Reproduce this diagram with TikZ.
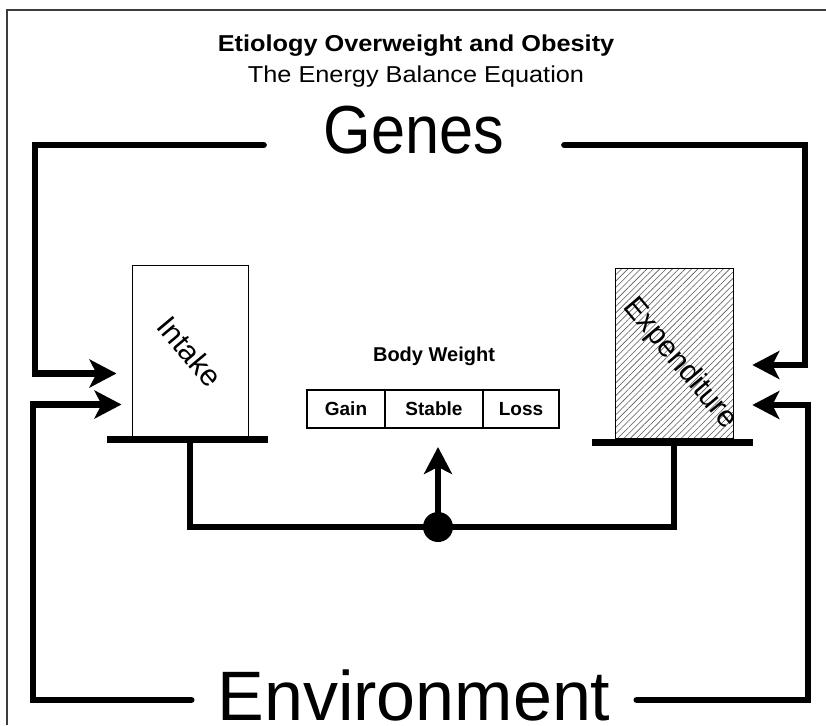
\documentclass[tikz,border=0pt]{standalone}
\usepackage{fontspec}
\setmainfont{Liberation Sans}
\newfontfamily\widesans{Liberation Sans}[FakeStretch=1.1]
\newfontfamily\narrowsans{Liberation Sans}[FakeStretch=0.9]
\usepackage{tikz}
\usetikzlibrary{arrows.meta, positioning, patterns.meta, calc}
\definecolor{frameGray}{RGB}{60,60,60}
\tikzset{
  bigword/.style={font=\fontsize{70}{70}\selectfont,inner ysep=0pt,inner xsep=52pt},
  headline/.style={font=\widesans\fontsize{23}{23}\selectfont,inner sep=0pt},
  flowline/.style={line width=6.5pt,line cap=round,color=black},
  flowarr/.style={flowline,-{Stealth[length=27pt,width=28pt,inset=7pt]}},
  sidebox/.style={rectangle,draw=black,line width=1pt,minimum width=116pt,minimum height=171pt,inner sep=0pt},
  sidelabel/.style={rotate=-50,font=\fontsize{30}{30}\selectfont,inner sep=0pt},
  barline/.style={line width=7pt},
  cell/.style={rectangle,draw=black,line width=2pt,outer sep=0pt,minimum height=38pt,inner sep=0pt,font=\fontsize{19}{19}\selectfont\bfseries},
  pivotdot/.style={circle,fill=black,minimum size=30pt,inner sep=0pt}
}
\begin{document}
\begin{tikzpicture}[x=1pt,y=-1pt]
  \useasboundingbox (0,0) rectangle (826,725);
  \draw[line width=2pt,frameGray] (7,725) -- (7,10) -- (826,10);

  % headings
  \node[headline,font=\widesans\fontsize{23}{23}\selectfont\bfseries,anchor=base] (title) at (416,52) {Etiology Overweight and Obesity};
  \node[headline,anchor=base] (subtitle) at (416,82) {The Energy Balance Equation};
  \node[bigword,font=\narrowsans\fontsize{68}{68}\selectfont,inner xsep=60pt,anchor=base] (genes) at (414,153) {Genes};
  \node[bigword,inner xsep=26pt,anchor=base] (env) at (414,720) {Environment};

  % intake / expenditure
  \node[sidebox] (intake) at (190,350.5) {};
  \node[sidelabel] (intakeLbl) at ([yshift=-1pt]intake.center) {Intake};
  \node[sidebox,minimum width=118pt,minimum height=170pt,pattern={Lines[angle=45,distance=4.5pt,line width=0.6pt]},pattern color=black!65] (expend) at (674,353) {};
  \node[sidelabel] (expendLbl) at ([xshift=6pt,yshift=-11pt]expend.center) {Expenditure};
  \draw[barline] ([xshift=-25pt,yshift=-3pt]intake.south west) -- ([xshift=19pt,yshift=-3pt]intake.south east);
  \draw[barline] ([xshift=-23pt,yshift=-4pt]expend.south west) -- ([xshift=20pt,yshift=-4pt]expend.south east);

  % scale
  \node[cell,minimum width=78pt] (gain) at (346,409) {Gain};
  \node[cell,minimum width=98pt,right=0pt of gain] (stable) {Stable};
  \node[cell,minimum width=76pt,right=0pt of stable] (loss) {Loss};
  \node[font=\fontsize{20}{20}\selectfont\bfseries,inner sep=0pt,above=24pt of stable] (bodyWt) {Body Weight};

  \node[pivotdot] (pivot) at (438,527) {};
  \draw[flowline,line cap=butt] (intake.south) |- (pivot.center) -| (expend.south);
  \draw[flowarr,line cap=butt,shorten >=19pt] (pivot.center) -- (pivot.center |- stable.south);

  % genes and environment feeds
  \coordinate (gTL) at (35,145);
  \coordinate (gTR) at (805,145);
  \coordinate (eBL) at (33,700);
  \coordinate (eBR) at (808,700);
  \draw[flowarr] (genes.west |- gTL) -- (gTL) |- ([xshift=-15pt,yshift=-23pt]intake.west);
  \draw[flowarr] (genes.east |- gTR) -- (gTR) |- ([xshift=19pt,yshift=-12pt]expend.east);
  \draw[flowarr] (env.west |- eBL) -- (eBL) |- ([xshift=-10pt,yshift=-54pt]intake.west);
  \draw[flowarr] (env.east |- eBR) -- (eBR) |- ([xshift=19pt,yshift=-52pt]expend.east);
\end{tikzpicture}
\end{document}
